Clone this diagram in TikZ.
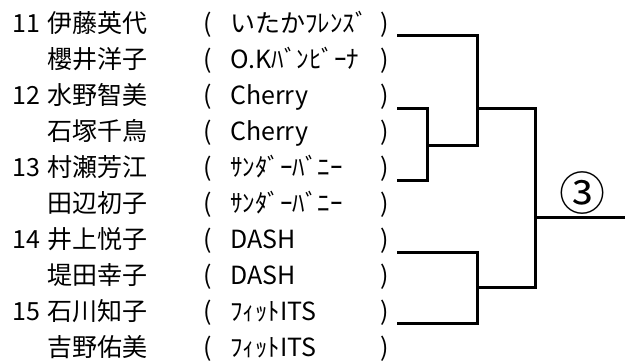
\documentclass[tikz,border=0pt]{standalone}
\usepackage{fontspec}
\setmainfont{Noto Sans CJK JP}
\tikzstyle{tx}=[anchor=base west,inner sep=0pt,font=\fontsize{25}{30}\selectfont]
\tikzstyle{br}=[line width=3pt]

\begin{document}
\begin{tikzpicture}[x=1pt,y=-1pt]
\useasboundingbox (0,0) rectangle (625,360);
\node[tx] (no1) at (12,32) {11};
\node[tx] (no3) at (12,104) {12};
\node[tx] (no5) at (12,176) {13};
\node[tx] (no7) at (12,248) {14};
\node[tx] (no9) at (12,320) {15};
\node[tx] (nm1) at (47,32) {伊藤英代};
\node[tx] (nm2) at (47,68) {櫻井洋子};
\node[tx] (nm3) at (47,104) {水野智美};
\node[tx] (nm4) at (47,140) {石塚千鳥};
\node[tx] (nm5) at (47,176) {村瀬芳江};
\node[tx] (nm6) at (47,212) {田辺初子};
\node[tx] (nm7) at (47,248) {井上悦子};
\node[tx] (nm8) at (47,284) {堤田幸子};
\node[tx] (nm9) at (47,320) {石川知子};
\node[tx] (nm10) at (47,356) {吉野佑美};
\node[tx] (lp1) at (203,32) {(};
\node[tx] (lp2) at (203,68) {(};
\node[tx] (lp3) at (203,104) {(};
\node[tx] (lp4) at (203,140) {(};
\node[tx] (lp5) at (203,176) {(};
\node[tx] (lp6) at (203,212) {(};
\node[tx] (lp7) at (203,248) {(};
\node[tx] (lp8) at (203,284) {(};
\node[tx] (lp9) at (203,320) {(};
\node[tx] (lp10) at (203,356) {(};
\node[tx] (tm1) at (230,32) {いたかﾌﾚﾝｽﾞ};
\node[tx] (tm2) at (230,68) {O.Kﾊﾞﾝﾋﾞｰﾅ};
\node[tx] (tm3) at (230,104) {Cherry};
\node[tx] (tm4) at (230,140) {Cherry};
\node[tx] (tm5) at (230,176) {ｻﾝﾀﾞｰﾊﾞﾆｰ};
\node[tx] (tm6) at (230,212) {ｻﾝﾀﾞｰﾊﾞﾆｰ};
\node[tx] (tm7) at (230,248) {DASH};
\node[tx] (tm8) at (230,284) {DASH};
\node[tx] (tm9) at (230,320) {ﾌｨｯﾄITS};
\node[tx] (tm10) at (230,356) {ﾌｨｯﾄITS};
\node[tx] (rp1) at (380,32) {)};
\node[tx] (rp2) at (380,68) {)};
\node[tx] (rp3) at (380,104) {)};
\node[tx] (rp4) at (380,140) {)};
\node[tx] (rp5) at (380,176) {)};
\node[tx] (rp6) at (380,212) {)};
\node[tx] (rp7) at (380,248) {)};
\node[tx] (rp8) at (380,284) {)};
\node[tx] (rp9) at (380,320) {)};
\node[tx] (rp10) at (380,356) {)};
% bracket
\coordinate (s1) at (397,35);
\coordinate (s2) at (397,108);
\coordinate (s3) at (397,180);
\coordinate (s4) at (397,252);
\coordinate (s5) at (397,323);
\coordinate (j1) at (477,108);
\coordinate (j2) at (427,145);
\coordinate (j3) at (477,287);
\coordinate (j4) at (535,217);
\coordinate (w) at (625,217);
\draw[br] (s2) -| (j2) |- (s3);
\draw[br] (s1) -| (j1) |- (j2);
\draw[br] (s4) -| (j3) |- (s5);
\draw[br] (j1) -| (j4) |- (j3);
\draw[br] (j4) -- (w);
\node[inner sep=0pt,font=\fontsize{46}{50}\selectfont] (r3) at (582,193) {③};
\end{tikzpicture}
\end{document}
